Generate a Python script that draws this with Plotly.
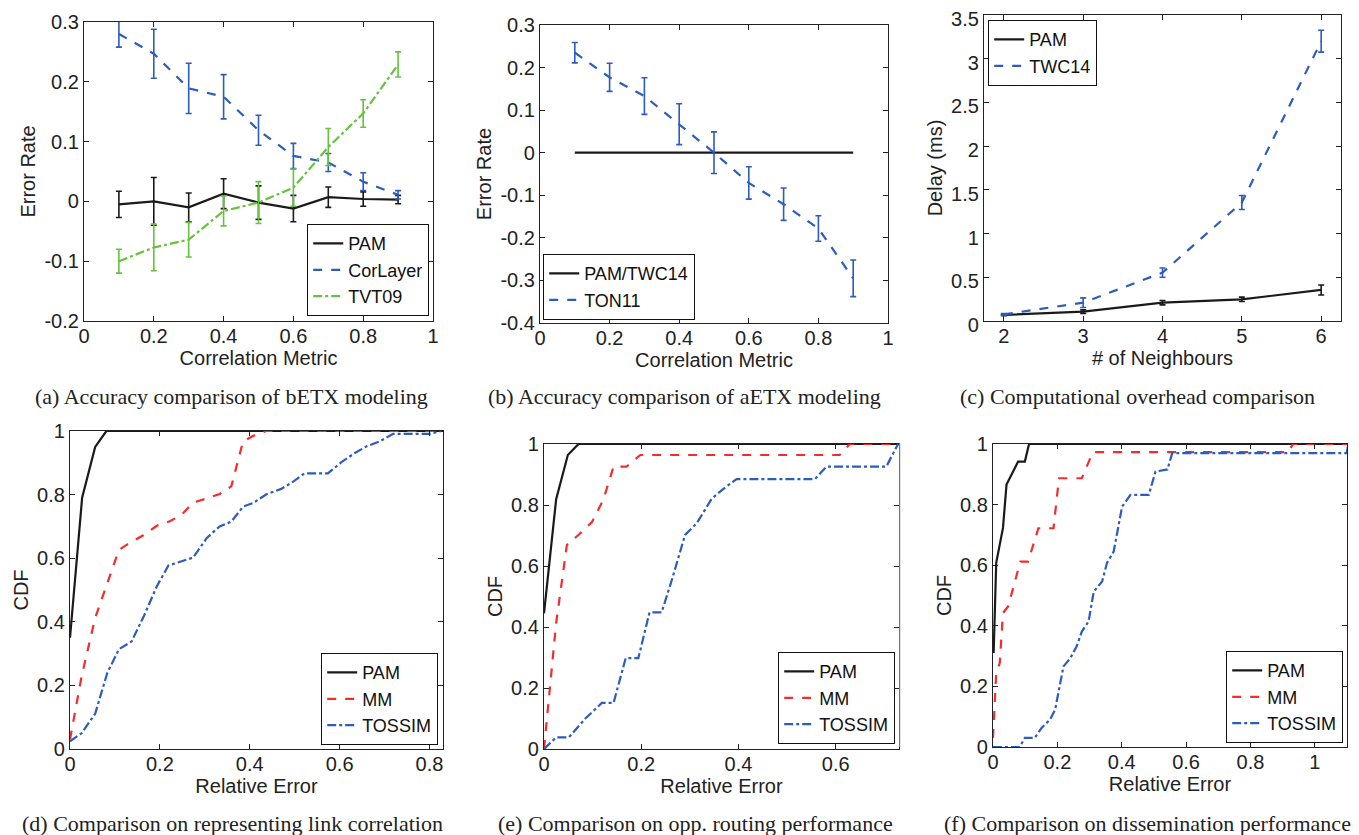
import plotly.graph_objects as go

W, H = 1359, 835
OFF = 8                      # default page margin of the html body
FW, FH = W - OFF, H - OFF    # figure size so that it fits the window

# ---------------- data ----------------
corr_x = [0.1, 0.2, 0.3, 0.4, 0.5, 0.6, 0.7, 0.8, 0.9]

a_pam = [-0.005, 0.0, -0.010, 0.013, -0.002, -0.012, 0.007, 0.004, 0.003]
a_pam_err = [0.022, 0.040, 0.024, 0.025, 0.028, 0.022, 0.017, 0.012, 0.007]
a_corlayer = [0.280, 0.247, 0.189, 0.175, 0.119, 0.076, 0.065, 0.033, 0.011]
a_corlayer_err = [0.022, 0.041, 0.042, 0.037, 0.025, 0.021, 0.015, 0.015, 0.007]
a_tvt09 = [-0.100, -0.077, -0.064, -0.016, -0.002, 0.023, 0.091, 0.147, 0.229]
a_tvt09_err = [0.020, 0.039, 0.029, 0.025, 0.035, 0.031, 0.031, 0.023, 0.021]

b_pam = [0, 0, 0, 0, 0, 0, 0, 0, 0]
b_ton11 = [0.235, 0.177, 0.133, 0.067, 0.0, -0.071, -0.121, -0.178, -0.295]
b_ton11_err = [0.024, 0.033, 0.043, 0.048, 0.049, 0.038, 0.038, 0.030, 0.043]

neigh_x = [2, 3, 4, 5, 6]
c_pam = [0.07, 0.107, 0.21, 0.248, 0.355]
c_pam_err = [0.008, 0.02, 0.025, 0.025, 0.057]
c_twc14 = [0.076, 0.21, 0.553, 1.355, 3.20]
c_twc14_err = [0.01, 0.055, 0.053, 0.08, 0.125]

d_pam_x = [0, 0.027, 0.056, 0.081, 0.83]
d_pam_y = [0.35, 0.79, 0.95, 1.0, 1.0]
d_mm_x = [0, 0.026, 0.056, 0.109, 0.126, 0.163, 0.193, 0.222, 0.248, 0.274, 0.304,
          0.333, 0.359, 0.385, 0.407, 0.437, 0.83]
d_mm_y = [0.03, 0.23, 0.412, 0.626, 0.642, 0.672, 0.702, 0.716, 0.736, 0.775, 0.788,
          0.802, 0.826, 0.967, 0.984, 1.0, 1.0]
d_tos_x = [0, 0.026, 0.056, 0.083, 0.109, 0.137, 0.165, 0.193, 0.219, 0.248, 0.274,
           0.304, 0.333, 0.359, 0.385, 0.407, 0.437, 0.47, 0.496, 0.522, 0.574, 0.604,
           0.633, 0.659, 0.689, 0.719, 0.80, 0.826]
d_tos_y = [0.024, 0.05, 0.111, 0.239, 0.314, 0.338, 0.42, 0.511, 0.577, 0.59, 0.602,
           0.663, 0.70, 0.715, 0.762, 0.773, 0.801, 0.818, 0.84, 0.867, 0.867, 0.902,
           0.93, 0.951, 0.967, 0.991, 0.991, 1.0]

e_pam_x = [0, 0.025, 0.049, 0.071, 0.73]
e_pam_y = [0.445, 0.819, 0.964, 1.0, 1.0]
e_mm_x = [0, 0.025, 0.047, 0.073, 0.099, 0.122, 0.143, 0.17, 0.198, 0.608, 0.629, 0.73]
e_mm_y = [0.0, 0.413, 0.669, 0.705, 0.745, 0.817, 0.926, 0.926, 0.964, 0.964, 1.0, 1.0]
e_tos_x = [0, 0.025, 0.051, 0.085, 0.119, 0.143, 0.168, 0.194, 0.217, 0.242, 0.263,
           0.29, 0.314, 0.345, 0.369, 0.396, 0.557, 0.581, 0.704, 0.728]
e_tos_y = [0.0, 0.038, 0.038, 0.10, 0.151, 0.151, 0.298, 0.298, 0.448, 0.448, 0.555,
           0.702, 0.74, 0.821, 0.853, 0.885, 0.885, 0.926, 0.926, 1.0]

f_pam_x = [0.002, 0.01, 0.031, 0.042, 0.078, 0.099, 0.112, 1.1]
f_pam_y = [0.31, 0.608, 0.723, 0.866, 0.942, 0.942, 1.0, 1.0]
f_mm_x = [0, 0.01, 0.021, 0.031, 0.047, 0.068, 0.085, 0.109, 0.141, 0.188, 0.205,
          0.276, 0.31, 0.917, 0.932, 1.1]
f_mm_y = [0.03, 0.244, 0.277, 0.442, 0.464, 0.541, 0.612, 0.612, 0.722, 0.722, 0.887,
          0.887, 0.973, 0.973, 1.0, 1.0]
f_tos_x = [0, 0.083, 0.099, 0.13, 0.151, 0.177, 0.193, 0.219, 0.24, 0.26, 0.276,
           0.297, 0.313, 0.339, 0.354, 0.375, 0.401, 0.427, 0.484, 0.505, 0.542,
           0.557, 1.099, 1.104]
f_tos_y = [0, 0, 0.03, 0.03, 0.063, 0.09, 0.123, 0.266, 0.293, 0.332, 0.381, 0.414,
           0.513, 0.546, 0.607, 0.645, 0.793, 0.832, 0.832, 0.909, 0.916, 0.97, 0.97, 1.0]

captions = ["(a) Accuracy comparison of bETX modeling",
            "(b) Accuracy comparison of aETX modeling",
            "(c) Computational overhead comparison",
            "(d) Comparison on representing link correlation",
            "(e) Comparison on opp. routing performance",
            "(f) Comparison on dissemination performance"]

ya_ticks = [-0.2, -0.1, 0, 0.1, 0.2, 0.3]
ya_text = ["-0.2", "-0.1", "0", "0.1", "0.2", "0.3"]
yb_ticks = [-0.4, -0.3, -0.2, -0.1, 0, 0.1, 0.2, 0.3]
yb_text = ["-0.4", "-0.3", "-0.2", "-0.1", "0", "0.1", "0.2", "0.3"]
yc_ticks = [0, 0.5, 1, 1.5, 2, 2.5, 3, 3.5]
yc_text = ["0", "0.5", "1", "1.5", "2", "2.5", "3", "3.5"]

# ---------------- style ----------------
BLACK = "#1a1a1a"
BLUE = "#2c5cbc"
GREEN = "#66c23c"
RED = "#f42c2c"
SANS = "Liberation Sans, Arial, sans-serif"
SERIF = "Liberation Serif, Times New Roman, serif"
FS = 20

fig = go.Figure()


def line(x, y, color, dash, name, ax, leg, err=None):
    kw = {}
    if err is not None:
        kw["error_y"] = dict(type="data", array=err, color=color, thickness=1.6, width=3)
    fig.add_trace(go.Scatter(x=x, y=y, mode="lines", name=name,
                             line=dict(color=color, width=2.2, dash=dash),
                             xaxis="x" + ax, yaxis="y" + ax, legend=leg, **kw))


line(corr_x, a_pam, BLACK, "solid", "PAM", "", "legend", a_pam_err)
line(corr_x, a_corlayer, BLUE, "dash", "CorLayer", "", "legend", a_corlayer_err)
line(corr_x, a_tvt09, GREEN, "dashdot", "TVT09", "", "legend", a_tvt09_err)

line(corr_x, b_pam, BLACK, "solid", "PAM/TWC14", "2", "legend2")
line(corr_x, b_ton11, BLUE, "dash", "TON11", "2", "legend2", b_ton11_err)

line(neigh_x, c_pam, BLACK, "solid", "PAM", "3", "legend3", c_pam_err)
line(neigh_x, c_twc14, BLUE, "dash", "TWC14", "3", "legend3", c_twc14_err)

line(d_pam_x, d_pam_y, BLACK, "solid", "PAM", "4", "legend4")
line(d_mm_x, d_mm_y, RED, "dash", "MM", "4", "legend4")
line(d_tos_x, d_tos_y, BLUE, "dashdot", "TOSSIM", "4", "legend4")

line(e_pam_x, e_pam_y, BLACK, "solid", "PAM", "5", "legend5")
line(e_mm_x, e_mm_y, RED, "dash", "MM", "5", "legend5")
line(e_tos_x, e_tos_y, BLUE, "dashdot", "TOSSIM", "5", "legend5")

line(f_pam_x, f_pam_y, BLACK, "solid", "PAM", "6", "legend6")
line(f_mm_x, f_mm_y, RED, "dash", "MM", "6", "legend6")
line(f_tos_x, f_tos_y, BLUE, "dashdot", "TOSSIM", "6", "legend6")


def px_x(px):
    return (px - OFF) / FW


def px_y(py):
    return 1 - (py - OFF) / FH


def dx(a, b):
    return [px_x(a), px_x(b)]


def dy(top, bottom):
    return [px_y(bottom), px_y(top)]


axcommon = dict(showline=True, linecolor="#222", linewidth=1.2, mirror="ticks",
                ticks="inside", ticklen=5, tickcolor="#222", showgrid=False,
                zeroline=False, automargin=False, ticklabeloverflow="allow",
                tickfont=dict(family=SANS, size=FS, color="#222"),
                title_font=dict(family=SANS, size=FS, color="#222"))

panels = [
    # key, xdom, ydom, xrange, yrange, xdtick, ydtick, xtitle, ytitle
    ("", (84, 433), (22, 321), [0, 1], [-0.2, 0.3], 0.2, None, "Correlation Metric", "Error Rate"),
    ("2", (540, 888), (25, 323), [0, 1], [-0.4, 0.3], 0.2, None, "Correlation Metric", "Error Rate"),
    ("3", (984, 1341), (15, 321), [1.75, 6.25], [0, 3.5], 1, None, "# of Neighbours", "Delay (ms)"),
    ("4", (70, 443), (431, 749), [0, 0.83], [0, 1], 0.2, 0.2, "Relative Error", "CDF"),
    ("5", (544, 899), (444, 749), [0, 0.73], [0, 1], 0.2, 0.2, "Relative Error", "CDF"),
    ("6", (993, 1347), (444, 747), [0, 1.1], [0, 1], 0.2, 0.2, "Relative Error", "CDF"),
]

layout = {}
for key, xd, yd, xr, yr, xdt, ydt, xt, yt in panels:
    xa = dict(axcommon, domain=dx(*xd), range=xr, dtick=xdt, tick0=0,
              anchor="y" + key, ticklabelstandoff=-3,
              title=dict(text=xt, standoff=1))
    ya = dict(axcommon, domain=dy(*yd), range=yr, anchor="x" + key,
              title=dict(text=yt, standoff=3))
    if key == "":
        ya.update(tickmode="array", tickvals=ya_ticks, ticktext=ya_text)
    elif key == "2":
        ya.update(tickmode="array", tickvals=yb_ticks, ticktext=yb_text)
    elif key == "3":
        ya.update(tickmode="array", tickvals=yc_ticks, ticktext=yc_text, ticklabelshift=4)
    else:
        ya.update(dtick=ydt, tick0=0)
    layout["xaxis" + key] = xa
    layout["yaxis" + key] = ya

legend_common = dict(bgcolor="white", bordercolor="#111", borderwidth=1.2,
                     font=dict(family=SANS, size=18, color="#111"),
                     itemwidth=30, tracegroupgap=0)
legend_boxes = {
    "legend": (429, 316, "right", "bottom"),
    "legend2": (543, 320, "left", "bottom"),
    "legend3": (988, 20, "left", "top"),
    "legend4": (438, 745, "right", "bottom"),
    "legend5": (895, 744, "right", "bottom"),
    "legend6": (1343, 743, "right", "bottom"),
}
for k, (lx, ly, xa_, ya_) in legend_boxes.items():
    layout[k] = dict(legend_common, x=px_x(lx), y=px_y(ly), xanchor=xa_, yanchor=ya_)

caption_pos = [(231, 397), (685, 397), (1137, 397), (232, 823), (695, 823), (1147, 823)]
annotations = []
for text, (cx, cy) in zip(captions, caption_pos):
    annotations.append(dict(text=text, x=px_x(cx), y=px_y(cy), xref="paper", yref="paper",
                            showarrow=False, xanchor="center", yanchor="middle",
                            font=dict(family=SERIF, size=22, color="#222")))

shapes = [dict(type="line", xref="paper", yref="paper", x0=px_x(900), x1=px_x(900),
               y0=px_y(747), y1=px_y(443), line=dict(color="#c8c8c8", width=1))]

fig.update_layout(width=FW, height=FH, margin=dict(l=0, r=0, t=0, b=0, autoexpand=False),
                  paper_bgcolor="white", plot_bgcolor="white", showlegend=True,
                  annotations=annotations, shapes=shapes, **layout)

fig.write_html("out.html")
